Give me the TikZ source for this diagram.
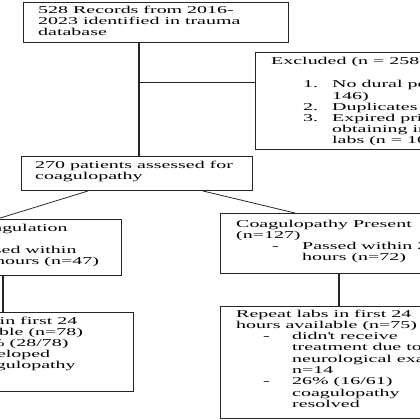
\documentclass[tikz,border=0pt]{standalone}
\usepackage{fontspec}
\setmainfont{Liberation Serif}[FakeStretch=1.9]
\usepackage{tikz}
\newcommand{\ind}[1]{\hspace*{#1}}
\newcommand{\itm}[3]{\hspace*{#1}\makebox[#2][l]{#3}}

\begin{document}
\begin{tikzpicture}[x=1pt, y=-1pt,
  every node/.style={inner sep=0pt},
  box/.style={rectangle, draw=black!85, line width=1pt, anchor=north west},
  txt/.style={anchor=base west, font=\fontsize{10.5}{11}\selectfont},
  link/.style={draw=black!85, line width=0.8pt},
  vlink/.style={draw=black!85, line width=1.5pt}
]
  \useasboundingbox (0,0) rectangle (420,420);
  \clip (0,0) rectangle (420,420);
  \fill[white] (0,0) rectangle (420,420);

  \node[box, minimum width=265pt, minimum height=40pt] (records) at (23,2) {};
  \node[box, minimum width=215pt, minimum height=97pt] (excluded) at (255,52) {};
  \node[box, minimum width=231pt, minimum height=34pt] (assessed) at (21,156) {};
  \node[box, minimum width=233pt, minimum height=56pt] (normal) at (-112,219) {};
  \node[box, minimum width=240pt, minimum height=60pt] (present) at (220,213) {};
  \node[box, minimum width=245pt, minimum height=79pt] (normlabs) at (-112,312) {};
  \node[box, minimum width=260pt, minimum height=112pt] (preslabs) at (220,306) {};

  \node[txt] (records-t) at ([shift={(15,12)}]records.north west)
    {\begin{tabular}[t]{@{}l@{}}
     528 Records from 2016-\\
     2023 identified in trauma\\
     database
     \end{tabular}};
  \node[txt] (excluded-t) at ([shift={(16,13)}]excluded.north west)
    {\begin{tabular}[t]{@{}l@{}}
     Excluded (n = 258)\\[12pt]
     \itm{32pt}{29pt}{1.}No dural penetration (n =\\
     \ind{61pt}146)\\
     \itm{32pt}{29pt}{2.}Duplicates (n = 9)\\
     \itm{32pt}{29pt}{3.}Expired prior to\\
     \ind{61pt}obtaining initial\\
     \ind{61pt}labs (n = 103)
     \end{tabular}};
  \node[txt] (assessed-t) at ([shift={(14,12)}]assessed.north west)
    {\begin{tabular}[t]{@{}l@{}}
     270 patients assessed for\\
     coagulopathy
     \end{tabular}};
  \node[txt] (normal-t) at ([shift={(16,12)}]normal.north west)
    {\begin{tabular}[t]{@{}l@{}}
     Normal Coagulation\\
     (n=143)\\
     \itm{36pt}{26pt}{-}Passed within\\
     \ind{66pt}24 hours (n=47)
     \end{tabular}};
  \node[txt] (present-t) at ([shift={(16,14)}]present.north west)
    {\begin{tabular}[t]{@{}l@{}}
     Coagulopathy Present\\
     (n=127)\\
     \itm{36pt}{30pt}{-}Passed within 24\\
     \ind{66pt}hours (n=72)
     \end{tabular}};
  \node[txt] (normlabs-t) at ([shift={(14,12)}]normlabs.north west)
    {\begin{tabular}[t]{@{}l@{}}
     Repeat labs in first 24\\
     hours available (n=78)\\
     \itm{36pt}{30pt}{-}36\% (28/78)\\
     \ind{66pt}developed\\
     \ind{66pt}coagulopathy
     \end{tabular}};
  \node[txt, font=\fontsize{10.5}{11.3}\selectfont] (preslabs-t) at ([shift={(16,11)}]preslabs.north west)
    {\begin{tabular}[t]{@{}l@{}}
     Repeat labs in first 24\\
     hours available (n=75)\\
     \itm{27pt}{29pt}{-}didn\textquotesingle t receive\\
     \ind{56pt}treatment due to\\
     \ind{56pt}neurological exam\\
     \ind{56pt}n=14\\
     \itm{27pt}{29pt}{-}26\% (16/61)\\
     \ind{56pt}coagulopathy\\
     \ind{56pt}resolved
     \end{tabular}};

  \coordinate (split) at (139,82);
  \draw[vlink] (records.south -| split) -- (assessed.north -| split);
  \draw[link] (split) -- (split -| excluded.west);
  \draw[link] ([xshift=67pt]assessed.south west) -- ([xshift=109pt]normal.north west);
  \draw[link] ([xshift=182pt]assessed.south west) -- ([xshift=75pt]present.north west);
  \draw[vlink] ([xshift=115pt]normal.south west) -- ([xshift=115pt]normlabs.north west);
  \draw[vlink] ([xshift=119pt]present.south west) -- ([xshift=119pt]preslabs.north west);
\end{tikzpicture}
\end{document}
